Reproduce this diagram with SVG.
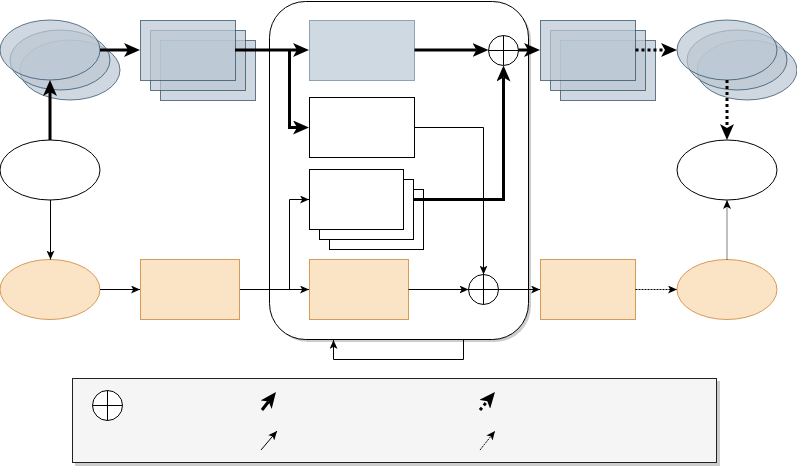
<svg xmlns="http://www.w3.org/2000/svg" width="797" height="468" viewBox="0 0 797 468">
<defs>
<style>
.blue{fill:#bac8d3;fill-opacity:0.7;stroke:#23445d;stroke-opacity:0.7;stroke-width:1}
.blue1{fill:#cfd9e1;stroke:#8fa3b5;stroke-width:1}
.org{fill:#fbe3c5;stroke:#d49c58;stroke-width:1}
.wht{fill:#fff;stroke:#000;stroke-width:1}
.thick{fill:none;stroke:#000;stroke-width:3;marker-end:url(#ah)}
.thin{fill:none;stroke:#000;stroke-width:1;marker-end:url(#a)}
.dot3{stroke-dasharray:3 3}
.dot1{stroke-dasharray:1 1}
.dot2{stroke-dasharray:2 1}
.shadow{fill:#000;fill-opacity:0.2}
.sum circle{fill:#fff;stroke:#000;stroke-width:1}
.sum path{fill:none;stroke:#000;stroke-width:1}
</style>
<marker id="ah" viewBox="0 0 16 14" refX="4" refY="7" markerWidth="16" markerHeight="14" markerUnits="userSpaceOnUse" orient="auto"><path d="M16,7 L0,0 L4,7 L0,14 Z" fill="#000"/></marker>
<marker id="a" viewBox="0 0 9 8" refX="9" refY="4" markerWidth="9" markerHeight="8" markerUnits="userSpaceOnUse" orient="auto"><path d="M9,4 L0,0 L2.25,4 L0,8 Z" fill="#000"/></marker>
</defs>
<rect width="797" height="468" fill="#fff"/>

<g id="container">
<rect class="shadow" x="272" y="4" width="259" height="338" rx="36"/>
<rect x="269.5" y="1.5" width="259" height="338" rx="36" fill="#fff" stroke="#000" stroke-width="1"/>
</g>

<g id="legend">
<rect class="shadow" x="75" y="381" width="645" height="85"/>
<rect x="72.5" y="378.5" width="644" height="84" fill="#f5f5f5" stroke="#222" stroke-width="1"/>
<g class="sum"><circle cx="107.5" cy="405.5" r="15"/><path d="M92.5,405.5 H122.5 M107.5,390.5 V420.5"/></g>
<path class="thick" d="M262,410 L268.6,401.5"/>
<path class="thin" d="M261,450 L277,431"/>
<path class="thick dot3" d="M480,410 L487.3,401.2"/>
<path class="thin dot2" d="M480,450 L495,431"/>
</g>

<g id="src-stack">
<ellipse class="blue" cx="70" cy="70" rx="50" ry="30"/>
<ellipse class="blue" cx="60" cy="60" rx="50" ry="30"/>
<ellipse class="blue" cx="50" cy="50" rx="50" ry="30"/>
</g>
<g id="feat-stack-left">
<rect class="blue" x="160.5" y="40.5" width="95" height="60"/>
<rect class="blue" x="150.5" y="30.5" width="95" height="60"/>
<rect class="blue" x="140.5" y="20.5" width="95" height="60"/>
</g>
<g id="white-ellipse-left"><ellipse class="wht" cx="50" cy="170" rx="50" ry="30"/></g>
<g id="orange-ellipse-left"><ellipse class="org" cx="50" cy="289.5" rx="50" ry="30"/></g>
<g id="orange-rect-left"><rect class="org" x="140.5" y="259.5" width="99" height="60"/></g>

<g id="blue-rect-inner"><rect class="blue1" x="309.5" y="20.5" width="105" height="60"/></g>
<g id="white-rect-inner"><rect class="wht" x="309.5" y="97.5" width="105" height="60"/></g>
<g id="white-stack-inner">
<rect class="wht" x="329.5" y="189.5" width="94" height="60"/>
<rect class="wht" x="319.5" y="179.5" width="94" height="60"/>
<rect class="wht" x="309.5" y="169.5" width="94" height="60"/>
</g>
<g id="orange-rect-inner"><rect class="org" x="309.5" y="259.5" width="99" height="60"/></g>
<g id="sum-top" class="sum"><circle cx="503.5" cy="50.5" r="15"/><path d="M488.5,50.5 H518.5 M503.5,35.5 V65.5"/></g>
<g id="sum-bottom" class="sum"><circle cx="483.5" cy="289.5" r="15"/><path d="M468.5,289.5 H498.5 M483.5,274.5 V304.5"/></g>

<g id="feat-stack-right">
<rect class="blue" x="560.5" y="40.5" width="95" height="60"/>
<rect class="blue" x="550.5" y="30.5" width="95" height="60"/>
<rect class="blue" x="540.5" y="20.5" width="95" height="60"/>
</g>
<g id="out-stack">
<ellipse class="blue" cx="747" cy="70" rx="50" ry="30"/>
<ellipse class="blue" cx="737" cy="60" rx="50" ry="30"/>
<ellipse class="blue" cx="727" cy="50" rx="50" ry="30"/>
</g>
<g id="white-ellipse-right"><ellipse class="wht" cx="727" cy="170" rx="50" ry="30"/></g>
<g id="orange-rect-right"><rect class="org" x="540.5" y="259.5" width="95" height="60"/></g>
<g id="orange-ellipse-right"><ellipse class="org" cx="727" cy="289.5" rx="50" ry="30"/></g>

<g id="connectors">
<path class="thick" d="M100,50 H128"/>
<path class="thick" d="M50,140 V92"/>
<path class="thin" d="M50.5,200 V259.5"/>
<path class="thin" d="M100,289.5 H140"/>
<path class="thick" d="M235,50 H297"/>
<path class="thick" d="M289.5,50 V127.5 H297"/>
<path class="thick" d="M414.5,50 H476.5"/>
<path class="thick" d="M518.5,50 H528"/>
<path class="thick" d="M413,199.5 H503.5 V77.5"/>
<path class="thin" d="M414.5,127.5 H483.5 V274.5"/>
<path class="thin" d="M240,289.5 H309"/>
<path class="thin" d="M289.5,289.5 V199.5 H309"/>
<path class="thin" d="M408.5,289.5 H468.5"/>
<path class="thin" d="M498.5,289.5 H540"/>
<path class="thin" d="M463.5,339.5 V359.5 H333.5 V340"/>
<path class="thick dot3" d="M635.5,50 H665"/>
<path class="thick dot3" d="M727,80 V128"/>
<path class="thin dot2" d="M635.5,289.5 H677"/>
<path class="thin dot1" d="M727,259.5 V200"/>
</g>
</svg>
